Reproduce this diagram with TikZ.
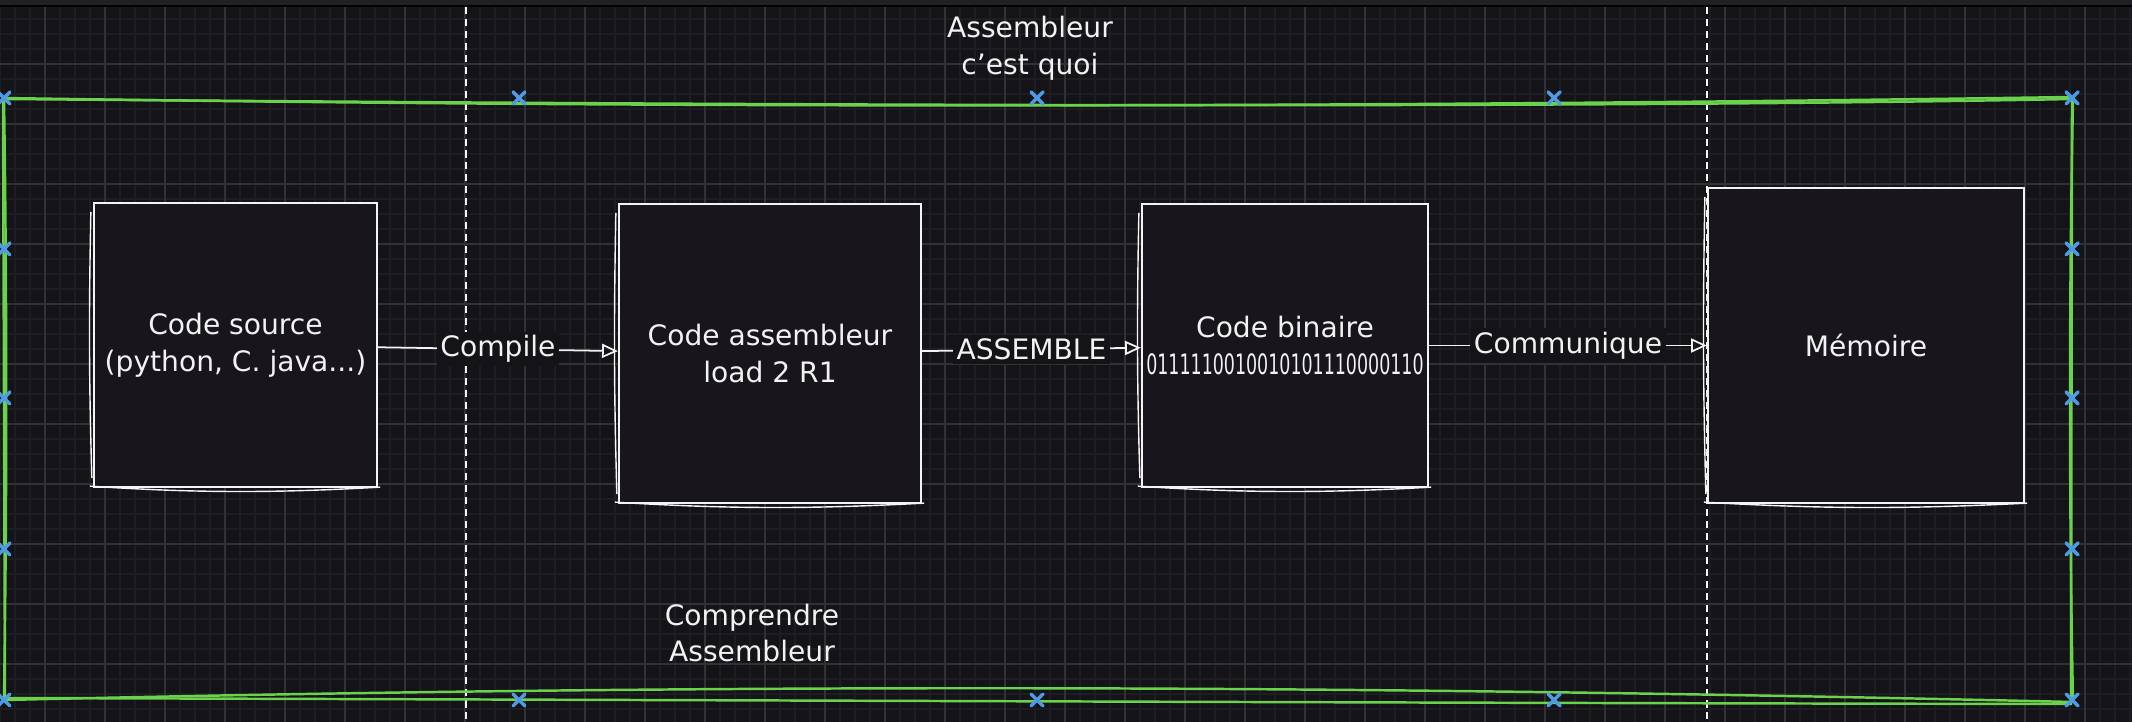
\documentclass[tikz,border=0pt]{standalone}
\usepackage{fontspec}
\setmainfont{DejaVu Sans}
\usetikzlibrary{arrows.meta,calc}

\definecolor{canvas}{HTML}{141318}
\definecolor{topbar}{HTML}{202124}
\definecolor{gridmajor}{HTML}{323136}
\definecolor{gridminor}{HTML}{1E1D23}
\definecolor{boxfill}{HTML}{18161C}
\definecolor{frameline}{HTML}{6BD24B}
\definecolor{handleblue}{HTML}{4D9BE6}
\definecolor{ink}{HTML}{F2F2F2}

\tikzset{
  stage/.style={draw=ink!90, line width=0.6pt, fill=boxfill, text=ink,
                align=center, inner sep=0pt, font=\fontsize{8}{10.5}\selectfont},
  sketch/.style={draw=ink!70, line width=0.4pt},
  flow/.style={draw=ink!90, line width=0.5pt, -{Triangle[open,length=4.5pt,width=4pt]}},
  flowlabel/.style={fill=canvas, text=ink, inner sep=1pt, font=\fontsize{8}{9}\selectfont},
  caption/.style={text=ink, align=center, font=\fontsize{8}{10.5}\selectfont},
  frame/.style={draw=frameline, line width=0.7pt},
  handle/.style={draw=handleblue, line width=1pt, line cap=round},
  divider/.style={draw=ink!70, line width=0.55pt, dash pattern=on 2pt off 1.4pt}
}

\begin{document}
\begin{tikzpicture}[x=0.01cm, y=-0.01cm]
  %% canvas and grid
  \fill[canvas] (0,0) rectangle (2132,722);
  \useasboundingbox (0,0) rectangle (2132,722);
  \foreach \gx in {0,15,...,2130} \draw[gridminor, line width=0.3pt] (\gx,7) -- (\gx,722);
  \foreach \gy in {19,34,...,720} \draw[gridminor, line width=0.3pt] (0,\gy) -- (2132,\gy);
  \foreach \gx in {45,105,...,2130} \draw[gridmajor, line width=0.35pt] (\gx,7) -- (\gx,722);
  \foreach \gy in {64,124,...,720} \draw[gridmajor, line width=0.35pt] (0,\gy) -- (2132,\gy);
  \fill[topbar] (0,0) rectangle (2132,5);
  \fill[black] (0,5) rectangle (2132,7);

  %% dashed dividers
  \draw[divider] (466,7) -- (466,722);
  \draw[divider] (1707,7) -- (1707,722);

  %% green frame, two rough strokes
  \draw[frame] (4,98) .. controls (700,109) and (1400,107) .. (2072,97)
    -- (2071,704) .. controls (1400,703) and (700,700) .. (4,698)
    .. controls (7,500) and (7,300) .. (4,98);
  \draw[frame] (3,99) .. controls (600,104) and (1500,110) .. (2073,99)
    .. controls (2069,300) and (2069,500) .. (2073,702)
    .. controls (1300,684) and (700,684) .. (5,700)
    -- (3,99);

  %% stages
  \node[stage, minimum width=2.83cm, minimum height=2.84cm] (src) at (235.5,345)
    {Code source\\(python, C. java...)};
  \node[stage, minimum width=3.02cm, minimum height=2.99cm] (asm) at (770,353.5)
    {Code assembleur\\load 2 R1};
  \node[stage, minimum width=2.86cm, minimum height=2.83cm] (bin) at (1285,345.5)
    {Code binaire\\\scalebox{0.62}[1]{0111110010010101110000110}};
  \node[stage, minimum width=3.16cm, minimum height=3.15cm] (mem) at (1866,345.5)
    {Mémoire};
  \foreach \b in {src,asm,bin,mem} {
    \draw[sketch] ($(\b.south west)+(-3,-2)$) .. controls ($(\b.south)+(-40,5)$)
      and ($(\b.south)+(40,5)$) .. ($(\b.south east)+(2,-1)$);
    \draw[sketch] ($(\b.north west)+(-2,10)$) .. controls ($(\b.west)+(-4,-30)$)
      and ($(\b.west)+(-4,30)$) .. ($(\b.south west)+(-1,-10)$);
  }

  %% connectors
  \draw[flow] (src) -- node[flowlabel] {Compile} (asm);
  \draw[flow] (asm) -- node[flowlabel] {ASSEMBLE} (bin);
  \draw[flow] (bin) -- node[flowlabel] {Communique} (mem);

  %% frame handles
  \foreach \hx in {4,519,1037,1554,2072} {
    \draw[handle] (\hx-6,92) -- (\hx+6,104) (\hx-6,104) -- (\hx+6,92);
    \draw[handle] (\hx-6,694) -- (\hx+6,706) (\hx-6,706) -- (\hx+6,694);
  }
  \foreach \hy in {249,398,549} {
    \draw[handle] (-2,\hy-6) -- (10,\hy+6) (-2,\hy+6) -- (10,\hy-6);
    \draw[handle] (2066,\hy-6) -- (2078,\hy+6) (2066,\hy+6) -- (2078,\hy-6);
  }

  %% captions
  \node[caption] (title) at (1030,48) {Assembleur\\c'est quoi};
  \node[caption] (subtitle) at (752,633) {Comprendre\\Assembleur};
\end{tikzpicture}
\end{document}
